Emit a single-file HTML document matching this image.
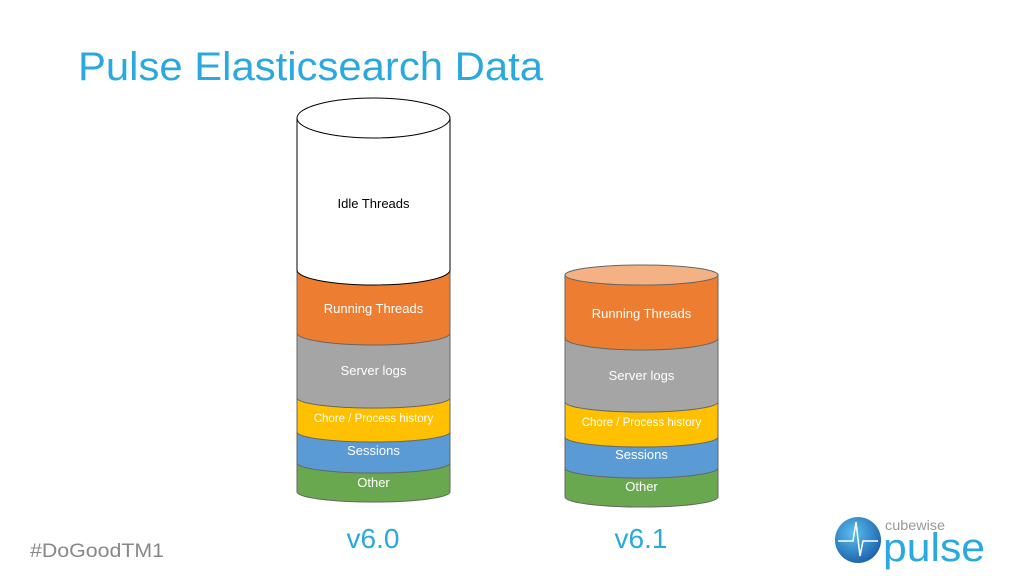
<!DOCTYPE html>
<html><head><meta charset="utf-8"><style>
html,body{margin:0;padding:0;background:#fff;width:1024px;height:576px;overflow:hidden}
</style></head><body>
<svg width="1024" height="576" viewBox="0 0 1024 576" xmlns="http://www.w3.org/2000/svg" font-family="Liberation Sans, sans-serif">
<text x="78" y="80" font-size="40" fill="#29a9e0" textLength="465" lengthAdjust="spacingAndGlyphs">Pulse Elasticsearch Data</text>
<g stroke="#666" stroke-width="1">
<path d="M297,463 L297,492 A76.5,10 0 0 0 450,492 L450,463 Z" fill="#6aa84f"/>
<path d="M297,432 L297,463 A76.5,10 0 0 0 450,463 L450,432 Z" fill="#5b9bd5"/>
<path d="M297,398 L297,432 A76.5,10 0 0 0 450,432 L450,398 Z" fill="#ffc000"/>
<path d="M297,333 L297,398 A76.5,10 0 0 0 450,398 L450,333 Z" fill="#a5a5a5"/>
<path d="M297,270 L297,333 A76.5,12 0 0 0 450,333 L450,270 Z" fill="#ed7d31"/>
<path d="M297,118 L297,270 A76.5,15 0 0 0 450,270 L450,118 Z" fill="#fff" stroke="#000"/>
<ellipse cx="373.5" cy="118" rx="76.5" ry="20" fill="#fff" stroke="#000"/>
<path d="M565,468 L565,497 A76.5,10 0 0 0 718,497 L718,468 Z" fill="#6aa84f"/>
<path d="M565,437 L565,468 A76.5,10 0 0 0 718,468 L718,437 Z" fill="#5b9bd5"/>
<path d="M565,402 L565,437 A76.5,10 0 0 0 718,437 L718,402 Z" fill="#ffc000"/>
<path d="M565,338 L565,402 A76.5,10 0 0 0 718,402 L718,338 Z" fill="#a5a5a5"/>
<path d="M565,275 L565,338 A76.5,12 0 0 0 718,338 L718,275 Z" fill="#ed7d31"/>
<ellipse cx="641.5" cy="275" rx="76.5" ry="10" fill="#f4b183"/>
</g>
<g font-size="13" text-anchor="middle" fill="#fff">
<text x="373.5" y="208" fill="#000">Idle Threads</text>
<text x="373.5" y="313">Running Threads</text>
<text x="373.5" y="375">Server logs</text>
<text x="373.5" y="422" font-size="11.5">Chore / Process history</text>
<text x="373.5" y="455">Sessions</text>
<text x="373.5" y="487">Other</text>
<text x="641.5" y="318">Running Threads</text>
<text x="641.5" y="380">Server logs</text>
<text x="641.5" y="426" font-size="11.5">Chore / Process history</text>
<text x="641.5" y="459">Sessions</text>
<text x="641.5" y="491">Other</text>
</g>
<text x="373" y="548" font-size="28" fill="#29a9e0" text-anchor="middle">v6.0</text>
<text x="641" y="548" font-size="28" fill="#29a9e0" text-anchor="middle">v6.1</text>
<text x="30" y="557" font-size="19" fill="#888" textLength="134" lengthAdjust="spacingAndGlyphs">#DoGoodTM1</text>
<defs><radialGradient id="g" cx="0.4" cy="0.35" r="0.7"><stop offset="0" stop-color="#5bc0f0"/><stop offset="1" stop-color="#1a5fa8"/></radialGradient></defs>
<circle cx="858" cy="540" r="23" fill="url(#g)"/>
<path d="M838,541 L853,541 L856,522 L860,556 L863,541 L878,541" stroke="#fff" stroke-width="1.5" fill="none"/>
<text x="885" y="530" font-size="14" fill="#999" textLength="60" lengthAdjust="spacingAndGlyphs">cubewise</text>
<text x="883" y="561" font-size="40" fill="#29a9e0" textLength="102" lengthAdjust="spacingAndGlyphs">pulse</text>
</svg>
</body></html>
